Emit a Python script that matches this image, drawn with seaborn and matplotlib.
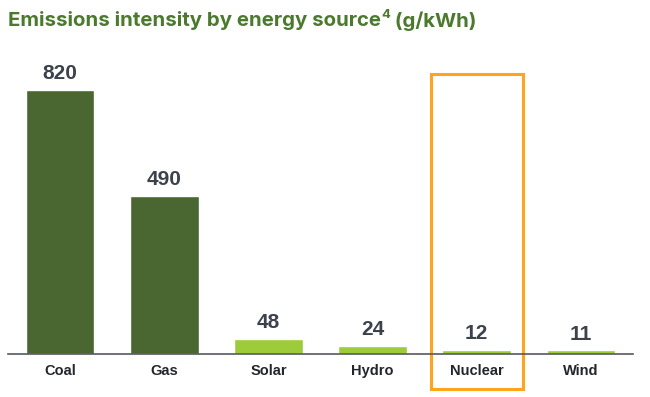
import matplotlib
matplotlib.use("Agg")
import matplotlib.pyplot as plt
import matplotlib.patches as mpatches
import seaborn as sns
import pandas as pd

# chart data
sources = ["Coal", "Gas", "Solar", "Hydro", "Nuclear", "Wind"]
intensity = [820, 490, 48, 24, 12, 11]
fossil = ["Coal", "Gas"]
highlight = "Nuclear"

dark_green = "#4a6631"
light_green = "#9dcb3a"
orange = "#ffa41c"
title_green = "#4b7a2e"

df = pd.DataFrame({"source": sources, "g_kwh": intensity})
colors = [dark_green if s in fossil else light_green for s in sources]

sns.set_style("white")
plt.rcParams["font.family"] = ["Liberation Sans", "DejaVu Sans"]

fig = plt.figure(figsize=(6.5, 3.97), dpi=100)
ax = fig.add_axes([8 / 650, 43 / 397, 625 / 650, 290 / 397])

sns.barplot(data=df, x="source", y="g_kwh", hue="source", palette=colors,
            legend=False, width=0.66, saturation=1, ax=ax)

for cont in ax.containers:
    ax.bar_label(cont, padding=5, fontsize=15, fontweight="bold", color="#3c424c")

ax.set_xlim(-0.5, len(sources) - 0.5)
ax.set_ylim(0, 900)
ax.set_xlabel("")
ax.set_ylabel("")
ax.set_yticks([])
ax.tick_params(axis="x", length=0, pad=7, labelsize=10.5)
for lbl in ax.get_xticklabels():
    lbl.set_fontweight("bold")
    lbl.set_color("#23272d")

sns.despine(ax=ax, left=True)
ax.spines["bottom"].set_color("#555a60")
ax.spines["bottom"].set_linewidth(1.2)

# orange box around the highlighted category
i = sources.index(highlight)
box = mpatches.Rectangle((i - 0.44, -108), 0.88, 978, fill=False,
                         edgecolor=orange, linewidth=2.2, clip_on=False)
ax.add_patch(box)

# title with a small superscript footnote mark
tfont = dict(fontweight="bold", color=title_green, family=["Inter", "DejaVu Sans"])
t1 = fig.text(8 / 650, 1 - 21 / 397, "Emissions intensity by energy source",
              fontsize=14.7, va="center", ha="left", **tfont)
fig.canvas.draw()
bb = t1.get_window_extent()
t2 = fig.text(bb.x1 / 650, 1 - 15 / 397, "4", fontsize=9.5,
              va="center", ha="left", **tfont)
fig.canvas.draw()
bb2 = t2.get_window_extent()
fig.text(bb2.x1 / 650, 1 - 21 / 397, " (g/kWh)", fontsize=14.7,
         va="center", ha="left", **tfont)

fig.savefig("out.png", dpi=100)
